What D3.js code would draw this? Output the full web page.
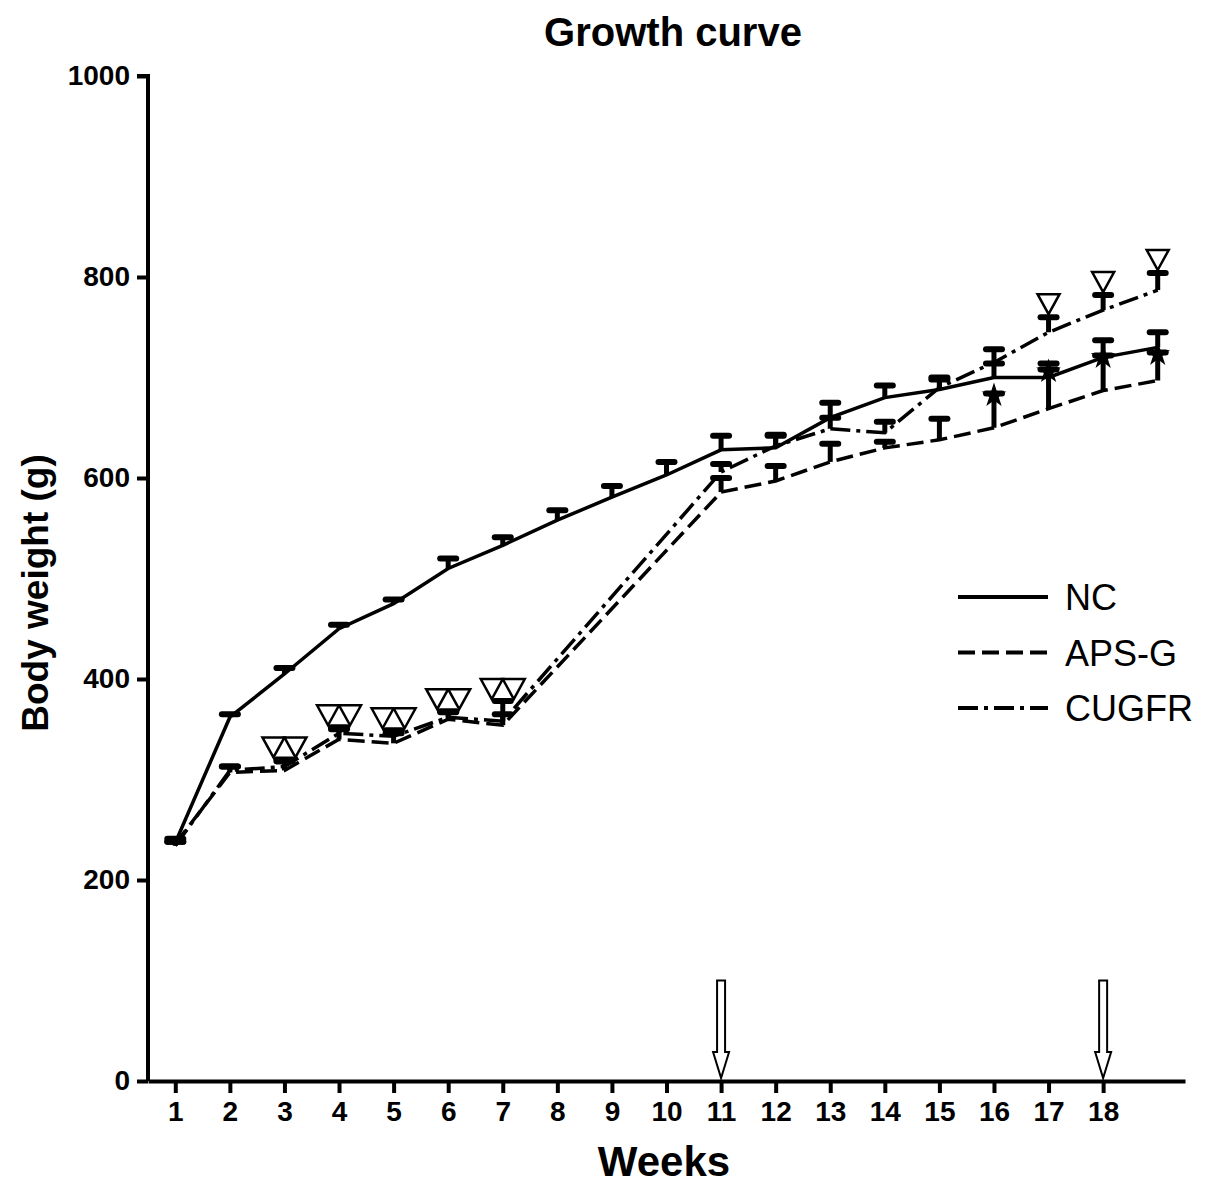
<!DOCTYPE html>
<html>
<head>
<meta charset="utf-8">
<script src="https://cdn.jsdelivr.net/npm/d3@7"></script>
<style>
  html, body { margin: 0; padding: 0; background: #fff; }
  svg { display: block; font-family: "Liberation Sans", Arial, sans-serif; }
</style>
</head>
<body>
<div id="chart"></div>
<script>
// growth curve: body weight over weeks, three groups, upward SE bars
const weeks = d3.range(1, 20);
const tickWeeks = d3.range(1, 19);
const yTicks = [0, 200, 400, 600, 800, 1000];

const ncMean  = [237, 362, 405, 450, 475, 510, 533, 558, 581, 603, 628, 630, 660, 680, 688, 700, 700, 720, 730];
const ncUpper = [241, 365, 411, 454, 479, 520, 541, 568, 592, 616, 642, 643, 675, 692, 700, 714, 714, 737, 745];

const apsMean  = [236, 307, 309, 340, 336, 360, 354, null, null, null, 586, 597, 616, 630, 638, 650, 669, 687, 697];
const apsUpper = [238, 313, 318, 350, 346, 367, 378, null, null, null, 600, 612, 634, 636, 659, 684, 708, 722, 725];

const cugMean  = [234, 309, 313, 346, 343, 362, 358, null, null, null, 606, 632, 649, 645, 690, 715, 745, 767, 787];
const cugUpper = [238, 313, 320, 352, 349, 368, 365, null, null, null, 614, 642, 660, 656, 698, 728, 760, 782, 804];

// significance marks
const pairTriWeeks = [3, 4, 5, 6, 7];   // two ▽ over the APS-G / CUGFR caps
const singleTriWeeks = [17, 18, 19];    // one ▽ over CUGFR cap
const starWeeks = [16, 17, 18, 19];     // ★ on APS-G cap
const arrowWeeks = [11, 18];
const arrowTop = 100;

const seriesNames = ["NC", "APS-G", "CUGFR"];
const dashes = { "NC": null, "APS-G": "17,7", "CUGFR": "20,6,4,6" };

const W = 1205, H = 1191;
const svg = d3.select("#chart").append("svg").attr("width", W).attr("height", H);

const x = d3.scaleLinear().domain([0.5, 19.5]).range([148, 1185]);
const y = d3.scaleLinear().domain([0, 1000]).range([1081, 76]);

function rows(mean, upper) {
  return weeks.map((w, i) => ({ w, m: mean[i], u: upper[i] })).filter((d) => d.m != null);
}
const series = [
  { name: "NC", data: rows(ncMean, ncUpper) },
  { name: "APS-G", data: rows(apsMean, apsUpper) },
  { name: "CUGFR", data: rows(cugMean, cugUpper) },
];

// axes
const yAxis = svg.append("g").attr("transform", `translate(${x(0.5)},0)`)
  .call(d3.axisLeft(y).tickValues(yTicks).tickSize(11).tickPadding(7).tickFormat(d3.format("d")));
const xAxis = svg.append("g").attr("transform", `translate(0,${y(0)})`)
  .call(d3.axisBottom(x).tickValues(tickWeeks).tickSize(12).tickPadding(8).tickSizeOuter(0));
for (const g of [yAxis, xAxis]) {
  g.select(".domain").attr("stroke", "#000").attr("stroke-width", 4);
  g.selectAll(".tick line").attr("stroke", "#000").attr("stroke-width", 4);
  g.selectAll(".tick text").attr("fill", "#000").attr("font-size", 28).attr("font-weight", 700)
    .attr("font-family", "'Liberation Sans', Arial, sans-serif");
}
yAxis.select(".domain").attr("d", `M-11,${y(1000)}H0V${y(0)}`);

// lines
const line = d3.line().x((d) => x(d.w)).y((d) => y(d.m));
svg.append("g").selectAll("path").data(series).join("path")
  .attr("d", (s) => line(s.data))
  .attr("fill", "none")
  .attr("stroke", "#000")
  .attr("stroke-width", 3.5)
  .attr("stroke-dasharray", (s) => dashes[s.name]);

// error bars (upper only)
const bars = svg.append("g");
for (const s of series) {
  const g = bars.append("g").selectAll("g").data(s.data).join("g");
  g.append("line")
    .attr("x1", (d) => x(d.w)).attr("x2", (d) => x(d.w))
    .attr("y1", (d) => y(d.m)).attr("y2", (d) => y(d.u))
    .attr("stroke", "#000").attr("stroke-width", 5);
  g.append("line")
    .attr("x1", (d) => x(d.w) - 8).attr("x2", (d) => x(d.w) + 8)
    .attr("y1", (d) => y(d.u)).attr("y2", (d) => y(d.u))
    .attr("stroke", "#000").attr("stroke-width", 6).attr("stroke-linecap", "round");
}

// triangles
const triPath = (cx, bottom) => `M${cx - 11},${bottom - 20}L${cx + 11},${bottom - 20}L${cx},${bottom}Z`;
const topCap = (w) => {
  const i = weeks.indexOf(w);
  return Math.max(apsUpper[i] ?? 0, cugUpper[i] ?? 0);
};
const marks = svg.append("g");
for (const w of pairTriWeeks) {
  for (const dx of [-11, 11]) {
    marks.append("path").attr("d", triPath(x(w) + dx, y(topCap(w)) - 2))
      .attr("fill", "#fff").attr("stroke", "#000").attr("stroke-width", 2.5);
  }
}
for (const w of singleTriWeeks) {
  marks.append("path").attr("d", triPath(x(w), y(cugUpper[weeks.indexOf(w)]) - 3))
    .attr("fill", "#fff").attr("stroke", "#000").attr("stroke-width", 2.5);
}
marks.selectAll("path.star").data(starWeeks).join("path")
  .attr("class", "star")
  .attr("transform", (w) => `translate(${x(w)},${y(apsUpper[weeks.indexOf(w)]) + 2})`)
  .attr("d", d3.symbol(d3.symbolStar, 190))
  .attr("fill", "#000");

// treatment arrows
const arrows = svg.append("g");
for (const w of arrowWeeks) {
  const cx = x(w), top = y(arrowTop), tip = y(0) - 3;
  arrows.append("path")
    .attr("d", `M${cx - 4},${top}H${cx + 4}V${tip - 26}H${cx + 8}L${cx},${tip}L${cx - 8},${tip - 26}H${cx - 4}Z`)
    .attr("fill", "#fff").attr("stroke", "#000").attr("stroke-width", 2);
}

// legend
const leg = svg.append("g").selectAll("g").data(seriesNames).join("g")
  .attr("transform", (d, i) => `translate(958,${597 + i * 55.5})`);
leg.append("line").attr("x1", 0).attr("x2", 90)
  .attr("stroke", "#000").attr("stroke-width", 4)
  .attr("stroke-dasharray", (d) => dashes[d]);
leg.append("text").attr("x", 107).attr("y", 13).attr("font-size", 36).text((d) => d);

// titles
svg.append("text").attr("x", 673).attr("y", 46).attr("text-anchor", "middle")
  .attr("font-size", 40).attr("font-weight", 700).text("Growth curve");
svg.append("text").attr("x", 664).attr("y", 1176).attr("text-anchor", "middle")
  .attr("font-size", 42).attr("font-weight", 700).text("Weeks");
svg.append("text").attr("transform", "translate(48,593) rotate(-90)").attr("text-anchor", "middle")
  .attr("font-size", 37).attr("font-weight", 700).text("Body weight (g)");
</script>
</body>
</html>
